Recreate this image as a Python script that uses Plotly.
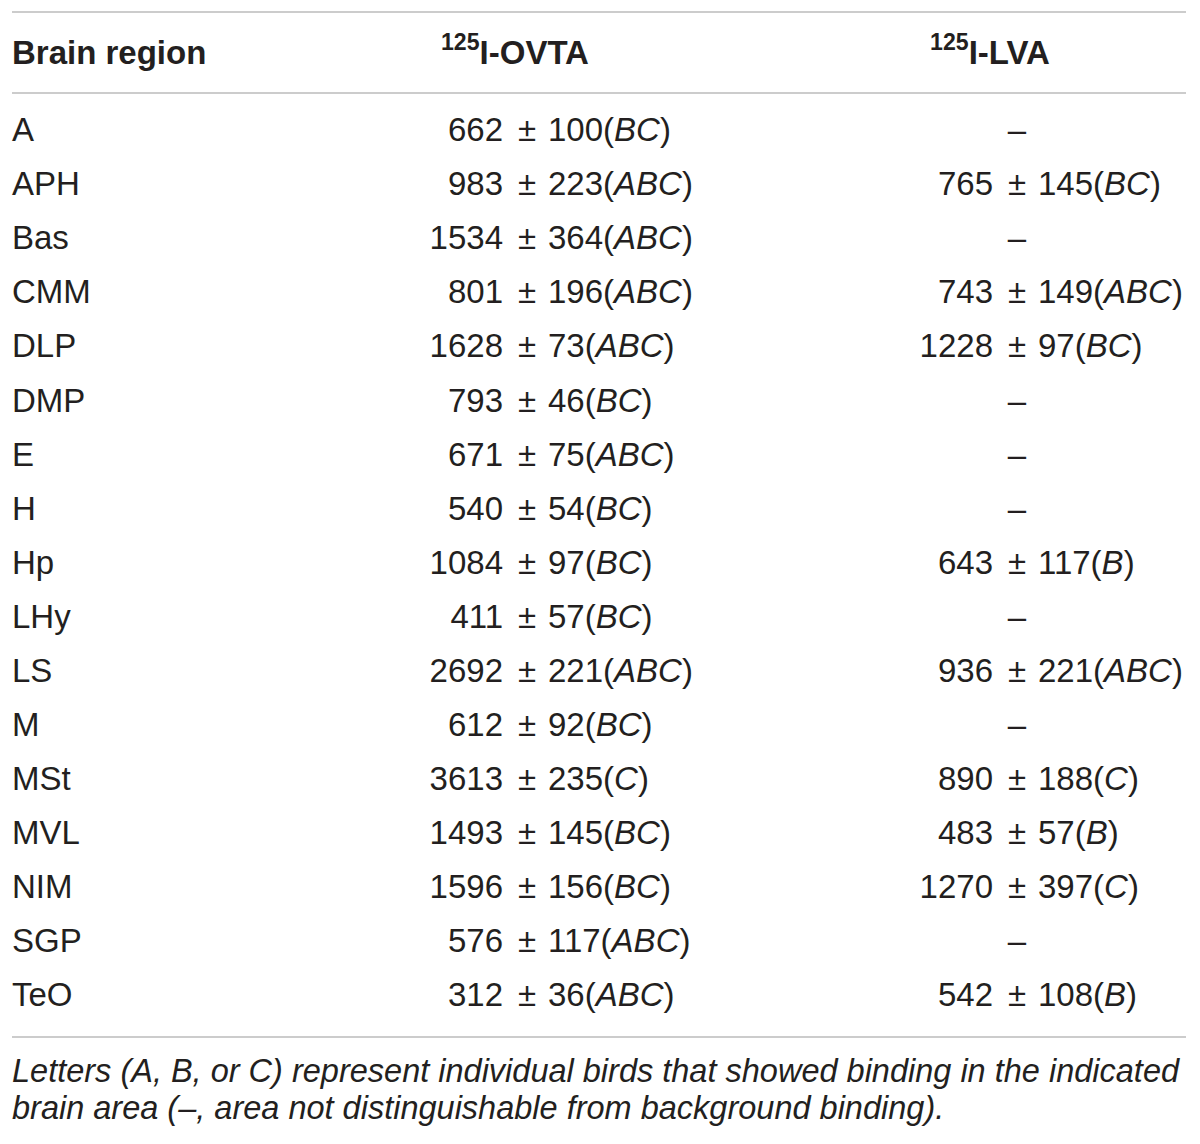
import plotly.graph_objects as go

# table data
regions = ["A", "APH", "Bas", "CMM", "DLP", "DMP", "E", "H", "Hp", "LHy",
           "LS", "M", "MSt", "MVL", "NIM", "SGP", "TeO"]
ovta_mean = [662, 983, 1534, 801, 1628, 793, 671, 540, 1084, 411,
             2692, 612, 3613, 1493, 1596, 576, 312]
ovta_sem = [100, 223, 364, 196, 73, 46, 75, 54, 97, 57,
            221, 92, 235, 145, 156, 117, 36]
ovta_birds = ["BC", "ABC", "ABC", "ABC", "ABC", "BC", "ABC", "BC", "BC", "BC",
              "ABC", "BC", "C", "BC", "BC", "ABC", "ABC"]
lva_mean = [None, 765, None, 743, 1228, None, None, None, 643, None,
            936, None, 890, 483, 1270, None, 542]
lva_sem = [None, 145, None, 149, 97, None, None, None, 117, None,
           221, None, 188, 57, 397, None, 108]
lva_birds = [None, "BC", None, "ABC", "BC", None, None, None, "B", None,
             "ABC", None, "C", "B", "C", None, "B"]

headers = ["<b>Brain region</b>", "<b><sup>125</sup>I-OVTA</b>", "<b><sup>125</sup>I-LVA</b>"]
footnote = ["<i>Letters (A, B, or C) represent individual birds that showed binding in the indicated</i>",
            "<i>brain area (–, area not distinguishable from background binding).</i>"]

FONT = "Liberation Sans"
TXT = "#231f20"
RULE = "#cccccc"
FS = 33

rows = list(range(len(regions)))
fig = go.Figure()


def text_trace(x, y, text, pos, size=FS):
    fig.add_trace(go.Scatter(x=x, y=y, mode="text", text=text, textposition=pos,
                             marker=dict(size=0),
                             textfont=dict(family=FONT, size=size, color=TXT)))


# column 1: region names
text_trace([12] * len(rows), rows, regions, "middle right")


def add_value_column(x_pm, means, sems, birds):
    # values are aligned on the ± sign
    yy = [r for r in rows if means[r] is not None]
    text_trace([x_pm - 24] * len(yy), yy, [str(means[r]) for r in yy], "middle left")
    text_trace([x_pm] * len(yy), yy, ["±"] * len(yy), "middle center")
    text_trace([x_pm + 21] * len(yy), yy,
               [f"{sems[r]}(<i>{birds[r]}</i>)" for r in yy], "middle right")
    ym = [r for r in rows if means[r] is None]
    if ym:
        text_trace([x_pm] * len(ym), ym, ["–"] * len(ym), "middle center")


add_value_column(527, ovta_mean, ovta_sem, ovta_birds)
add_value_column(1017, lva_mean, lva_sem, lva_birds)

# header
text_trace([12], [-1.43], [headers[0]], "middle right")
text_trace([515, 990], [-1.43, -1.43], headers[1:], "middle center")

# footnote
text_trace([12, 12], [17.41, 18.08], footnote, "middle right", size=32.5)

# rules
for yr in [-2.238, -0.740, 16.72]:
    fig.add_shape(type="line", xref="x", yref="y", x0=12, x1=1186, y0=yr, y1=yr,
                  line=dict(color=RULE, width=2))

fig.update_xaxes(range=[8, 1208], visible=False)
fig.update_yaxes(range=[18.849, -2.312], visible=False)
fig.update_layout(width=1200, height=1144, margin=dict(l=0, r=0, t=0, b=0),
                  plot_bgcolor="white", paper_bgcolor="white", showlegend=False)

fig.write_html("out.html")
